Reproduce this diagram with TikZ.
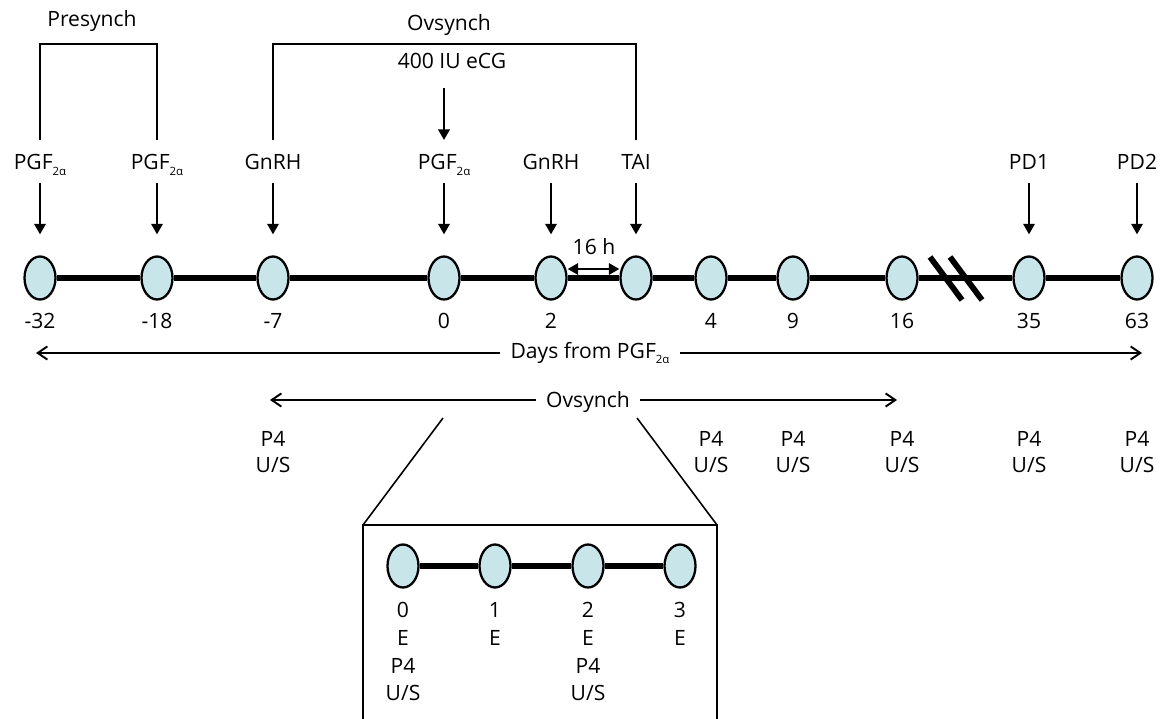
\documentclass[tikz,border=0pt]{standalone}
\usepackage{fontspec}
\setmainfont{Open Sans}
\usetikzlibrary{shapes.geometric,arrows.meta}
\definecolor{dayfill}{RGB}{200,230,234}
\newcommand{\pgfta}{PGF\raisebox{-3.2pt}{\fontsize{6.5}{7}\selectfont 2α}}
\begin{document}
\begin{tikzpicture}[x=0.02cm,y=-0.02cm,
  every node/.style={font=\fontsize{12}{15}\selectfont, inner sep=0pt},
  day/.style={ellipse, draw, line width=1.3pt, fill=dayfill, minimum width=0.62cm, minimum height=0.86cm},
  axis/.style={line width=3.3pt},
  dose/.style={line width=1.2pt, -{Triangle[width=6.5pt,length=6pt]}, shorten <=0.26cm, shorten >=0.42cm},
  bracket/.style={line width=0.9pt},
  span/.style={line width=0.9pt, {Straight Barb[width=7.5pt,length=5.5pt,line width=1.1pt]}-{Straight Barb[width=7.5pt,length=5.5pt,line width=1.1pt]}},
  gap/.style={fill=white, inner xsep=6pt}]
\useasboundingbox (0,0) rectangle (1172,719);

% main time line
\foreach \x/\n in {40/a,157/b,273/c,444/d,551/e,636/f,711/g,793/h,902/i,1029/j,1137/k}
  \node[day] (d\n) at (\x,278) {};
\foreach \p/\q in {a/b,b/c,c/d,d/e,e/f,f/g,g/h,h/i,i/j,j/k}
  \draw[axis] (d\p) -- (d\q);
\draw[axis] (930,257) -- (962,300) (950,257) -- (982,300);
\foreach \n/\t in {a/-32,b/-18,c/-7,d/0,e/2,g/4,h/9,i/16,j/35,k/63}
  \node[anchor=base] (n\n) at (d\n |- 0,328) {\t};

% treatments
\node[anchor=base] (pa) at (da |- 0,170) {\pgfta};
\node[anchor=base] (pb) at (db |- 0,170) {\pgfta};
\node[anchor=base] (pc) at (dc |- 0,170) {GnRH};
\node[anchor=base] (pd) at (dd |- 0,170) {\pgfta};
\node[anchor=base] (pe) at (de |- 0,170) {GnRH};
\node[anchor=base] (pf) at (df |- 0,170) {TAI};
\node[anchor=base] (pj) at (dj |- 0,170) {PD1};
\node[anchor=base] (pk) at (dk |- 0,170) {PD2};
\foreach \n in {a,b,c,d,e,f,j,k}
  \draw[dose] (p\n.base) -- (d\n.north);

\node[anchor=base] (ecg) at (452,69) {400 IU eCG};
\draw[dose, shorten <=0.38cm, shorten >=0.6cm] (ecg.base -| pd.base) -- (pd.base);

% brackets
\node[anchor=base] (pre) at (92,27) {Presynch};
\draw[bracket] (pa.base |- 0,140) -- (pa.base |- 0,44) -- (pb.base |- 0,44) -- (pb.base |- 0,140);
\node[anchor=base] (ovs) at (449,31) {Ovsynch};
\draw[bracket] (pc.base |- 0,140) -- (pc.base |- 0,44) -- (pf.base |- 0,44) -- (pf.base |- 0,140);

% 16 h
\draw[line width=1.2pt, {Triangle[width=6.5pt,length=6pt]}-{Triangle[width=6.5pt,length=6pt]}] (de.east |- 0,269) -- (df.west |- 0,269);
\node[anchor=base] (hrs) at (594,255) {16 h};

% spans
\coordinate (dl) at (36,353);
\coordinate (dr) at (1142,353);
\draw[span] (dl) -- (dr);
\node[gap, anchor=base] (days) at (590,358) {Days from \pgfta};
\coordinate (ol) at (270,400);
\coordinate (or) at (897,400);
\draw[span] (ol) -- (or);
\node[gap, anchor=base] (ovl) at (588,407) {Ovsynch};

% sampling
\foreach \n in {c,g,h,i,j,k} {
  \node[anchor=base] (s\n) at (d\n |- 0,446) {P4};
  \node[anchor=base] (u\n) at (d\n |- 0,472) {U/S};
}

% detail box
\coordinate (fl) at (443,418);
\coordinate (fr) at (637,418);
\coordinate (bl) at (363,525);
\coordinate (br) at (717,525);
\draw[bracket] (fl) -- (bl) (fr) -- (br);
\draw[line width=1.1pt] (bl |- 0,719) -- (bl) -- (br) -- (br |- 0,719);
\foreach \x/\n in {403/p,495/q,588/r,680/s}
  \node[day] (e\n) at (\x,566) {};
\foreach \p/\q in {p/q,q/r,r/s}
  \draw[axis] (e\p) -- (e\q);
\foreach \n/\t in {p/0,q/1,r/2,s/3} {
  \node[anchor=base] (m\n) at (e\n |- 0,617) {\t};
  \node[anchor=base] (x\n) at (e\n |- 0,645) {E};
}
\foreach \n in {p,r} {
  \node[anchor=base] (y\n) at (e\n |- 0,673) {P4};
  \node[anchor=base] (z\n) at (e\n |- 0,700) {U/S};
}
\end{tikzpicture}
\end{document}
